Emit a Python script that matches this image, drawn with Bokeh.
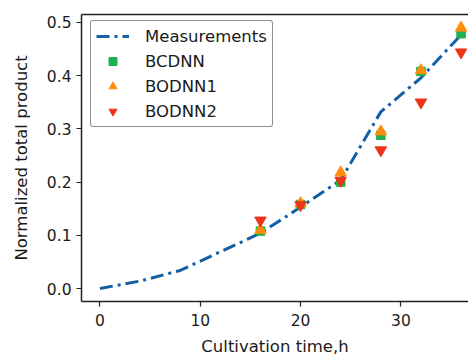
from bokeh.plotting import figure
from bokeh.models import Legend, LegendItem, LinearAxis, Range1d, FixedTicker
from bokeh.embed import file_html
from bokeh.resources import INLINE

# data
meas_t = [0, 4, 8, 16, 20, 24, 28, 32, 36]
meas_y = [0.0, 0.014, 0.034, 0.104, 0.153, 0.204, 0.332, 0.396, 0.477]

pred_t = [16, 20, 24, 28, 32, 36]
bcdnn = [0.108, 0.158, 0.200, 0.288, 0.408, 0.479]
bodnn1 = [0.110, 0.160, 0.218, 0.295, 0.410, 0.490]
bodnn2 = [0.128, 0.157, 0.203, 0.260, 0.350, 0.444]

x_ticks = [0, 10, 20, 30]
y_ticks = [0.0, 0.1, 0.2, 0.3, 0.4, 0.5]

FONT = "DejaVu Sans"
TXT = "#1a1a1a"

p = figure(width=468, height=358, output_backend="svg", toolbar_location=None,
           x_range=Range1d(-1.84, 36.74), y_range=Range1d(-0.0244, 0.5150),
           min_border_left=81, min_border_right=0, min_border_top=14, min_border_bottom=57)
p.outline_line_color = None
p.grid.visible = False
p.background_fill_color = "white"
p.border_fill_color = "white"

xb = p.below[0]
yl = p.left[0]

for ax in (xb, yl):
    ax.axis_line_color = "#222222"
    ax.axis_line_width = 1.5
    ax.major_tick_line_color = "#222222"
    ax.major_tick_line_width = 1.2
    ax.major_tick_out = 5
    ax.major_tick_in = 0
    ax.minor_tick_line_color = None
    ax.major_label_text_font = FONT
    ax.major_label_text_font_size = "15.5px"
    ax.major_label_text_color = TXT
    ax.axis_label_text_font = FONT
    ax.axis_label_text_font_size = "16.5px"
    ax.axis_label_text_font_style = "normal"
    ax.axis_label_text_color = TXT

xb.ticker = FixedTicker(ticks=x_ticks)
yl.ticker = FixedTicker(ticks=y_ticks)
yl.major_label_overrides = {v: f"{v:.1f}" for v in y_ticks}
xb.axis_label = "Cultivation time,h"
yl.axis_label = "Normalized total product"
xb.major_label_standoff = 7
xb.axis_label_standoff = 8
yl.major_label_standoff = 5
yl.axis_label_standoff = 13

# top spine via an empty axis
top = LinearAxis(ticker=FixedTicker(ticks=[]), major_tick_out=0, major_tick_in=0,
                 major_label_standoff=0, axis_label_standoff=0,
                 major_label_text_font_size="0px",
                 minor_tick_line_color=None, axis_line_color="#222222", axis_line_width=1.5)
p.add_layout(top, "above")

r_line = p.line(meas_t, meas_y, line_color="#135fa6", line_width=3, line_dash="13 5 3 5")
r_g = p.scatter(pred_t, bcdnn, marker="square", size=8.5, fill_color="#1eb14f", line_color="#1eb14f")
r_o = p.scatter(pred_t, bodnn1, marker="triangle", size=11.5, fill_color="#ff8c0a", line_color="#ff8c0a")
r_r = p.scatter(pred_t, bodnn2, marker="inverted_triangle", size=11.5, fill_color="#ee3318", line_color="#ee3318")

legend = Legend(items=[LegendItem(label="Measurements", renderers=[r_line]),
                       LegendItem(label="BCDNN", renderers=[r_g]),
                       LegendItem(label="BODNN1", renderers=[r_o]),
                       LegendItem(label="BODNN2", renderers=[r_r])],
                location=(9, 174))
legend.label_text_font = FONT
legend.label_text_font_size = "16.5px"
legend.label_text_color = TXT
legend.border_line_color = "#222222"
legend.border_line_width = 1.5
legend.background_fill_alpha = 1
legend.glyph_width = 33
legend.glyph_height = 20
legend.label_standoff = 16
legend.label_height = 20
legend.spacing = 5
legend.padding = 5
legend.margin = 0
try:
    legend.border_radius = 3
except Exception:
    pass
p.add_layout(legend, "center")

open("out.html", "w").write(file_html(p, INLINE))
